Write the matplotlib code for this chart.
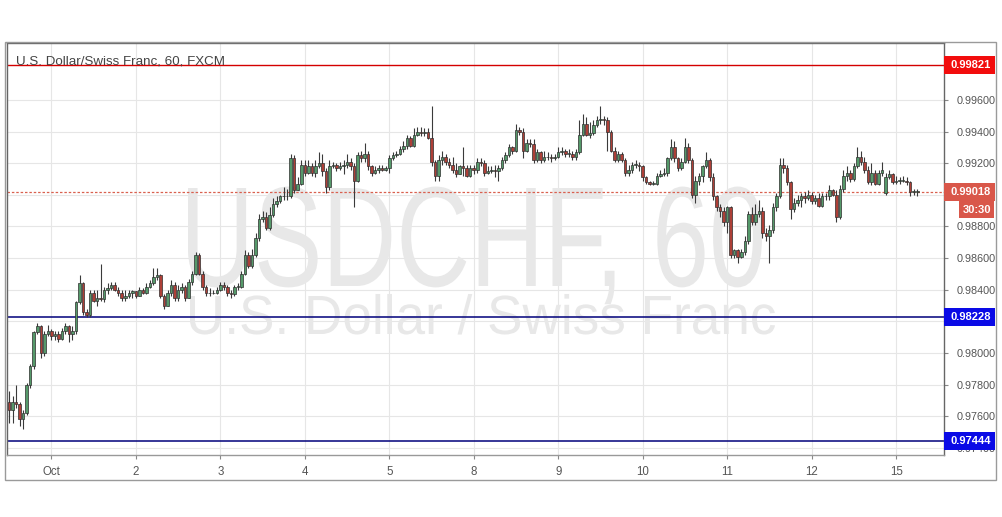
import numpy as np
import matplotlib
matplotlib.use("Agg")
import matplotlib.pyplot as plt
from matplotlib.patches import Rectangle, PathPatch
from matplotlib.textpath import TextPath
from matplotlib.font_manager import FontProperties
from matplotlib.transforms import Affine2D

# DATA ==================================================================================

# hourly USD/CHF candles, open = previous close except where a gap is listed
first_open = 0.9769
gap_opens = {249: 0.9901}

closes = [
    0.9764, 0.9769, 0.9768, 0.9758, 0.9762, 0.9780, 0.9792, 0.9813, 0.9817, 0.9800, 0.9812, 0.9814,
    0.9811, 0.9812, 0.9809, 0.9814, 0.9817, 0.9812, 0.9814, 0.9832, 0.9844, 0.9826, 0.9824, 0.9838,
    0.9833, 0.9835, 0.9834, 0.9840, 0.9841, 0.9843, 0.9840, 0.9838, 0.9835, 0.9836, 0.9838, 0.9839,
    0.9836, 0.9840, 0.9838, 0.9842, 0.9844, 0.9848, 0.9849, 0.9836, 0.9830, 0.9838, 0.9843, 0.9835,
    0.9840, 0.9842, 0.9835, 0.9845, 0.9850, 0.9862, 0.9850, 0.9842, 0.9838, 0.9838, 0.9838, 0.9840,
    0.9843, 0.9842, 0.9838, 0.9837, 0.9842, 0.9842, 0.9850, 0.9862, 0.9855, 0.9862, 0.9873, 0.9885,
    0.9886, 0.9879, 0.9887, 0.9894, 0.9896, 0.9899, 0.9899, 0.9899, 0.9923, 0.9903, 0.9907, 0.9919,
    0.9914, 0.9918, 0.9914, 0.9918, 0.9920, 0.9915, 0.9905, 0.9918, 0.9919, 0.9917, 0.9918, 0.9919,
    0.9921, 0.9918, 0.9909, 0.9925, 0.9923, 0.9926, 0.9918, 0.9914, 0.9916, 0.9917, 0.9916, 0.9917,
    0.9923, 0.9925, 0.9926, 0.9929, 0.9931, 0.9936, 0.9931, 0.9938, 0.9940, 0.9939, 0.9940, 0.9936,
    0.9921, 0.9912, 0.9922, 0.9924, 0.9921, 0.9919, 0.9916, 0.9913, 0.9918, 0.9917, 0.9912, 0.9917,
    0.9916, 0.9921, 0.9920, 0.9914, 0.9915, 0.9916, 0.9915, 0.9917, 0.9922, 0.9925, 0.9930, 0.9928,
    0.9941, 0.9940, 0.9928, 0.9933, 0.9932, 0.9922, 0.9927, 0.9922, 0.9924, 0.9924, 0.9923, 0.9924,
    0.9927, 0.9928, 0.9926, 0.9926, 0.9924, 0.9927, 0.9938, 0.9945, 0.9938, 0.9939, 0.9944, 0.9947,
    0.9948, 0.9947, 0.9940, 0.9928, 0.9922, 0.9926, 0.9922, 0.9914, 0.9916, 0.9919, 0.9919, 0.9918,
    0.9911, 0.9908, 0.9907, 0.9907, 0.9912, 0.9913, 0.9914, 0.9923, 0.9930, 0.9923, 0.9917, 0.9921,
    0.9930, 0.9922, 0.9900, 0.9909, 0.9912, 0.9918, 0.9922, 0.9911, 0.9899, 0.9892, 0.9890, 0.9883,
    0.9892, 0.9862, 0.9865, 0.9861, 0.9864, 0.9871, 0.9888, 0.9883, 0.9888, 0.9890, 0.9876, 0.9874,
    0.9878, 0.9892, 0.9899, 0.9919, 0.9917, 0.9908, 0.9891, 0.9895, 0.9897, 0.9899, 0.9898, 0.9900,
    0.9896, 0.9898, 0.9893, 0.9899, 0.9899, 0.9903, 0.9900, 0.9886, 0.9904, 0.9912, 0.9914, 0.9910,
    0.9918, 0.9924, 0.9921, 0.9916, 0.9908, 0.9914, 0.9907, 0.9914, 0.9916, 0.9911, 0.9913, 0.9908,
    0.9909, 0.9909, 0.9909, 0.9908, 0.9902, 0.9902, 0.9902,
]

highs = [
    0.9776, 0.9773, 0.9780, 0.9769, 0.9764, 0.9781, 0.9793, 0.9814, 0.9819, 0.9818, 0.9814, 0.9818,
    0.9815, 0.9814, 0.9814, 0.9816, 0.9819, 0.9818, 0.9817, 0.9833, 0.9849, 0.9845, 0.9828, 0.9840,
    0.9840, 0.9840, 0.9856, 0.9842, 0.9844, 0.9845, 0.9845, 0.9842, 0.9840, 0.9840, 0.9840, 0.9840,
    0.9839, 0.9842, 0.9841, 0.9844, 0.9846, 0.9854, 0.9854, 0.9850, 0.9837, 0.9840, 0.9846, 0.9845,
    0.9843, 0.9844, 0.9843, 0.9847, 0.9852, 0.9864, 0.9863, 0.9852, 0.9843, 0.9841, 0.9840, 0.9842,
    0.9845, 0.9845, 0.9843, 0.9840, 0.9843, 0.9844, 0.9852, 0.9865, 0.9864, 0.9866, 0.9876, 0.9888,
    0.9890, 0.9889, 0.9892, 0.9898, 0.9899, 0.9900, 0.9905, 0.9904, 0.9926, 0.9925, 0.9911, 0.9922,
    0.9922, 0.9922, 0.9920, 0.9922, 0.9927, 0.9926, 0.9917, 0.9922, 0.9921, 0.9920, 0.9921, 0.9922,
    0.9926, 0.9923, 0.9920, 0.9927, 0.9928, 0.9933, 0.9928, 0.9919, 0.9918, 0.9919, 0.9919, 0.9918,
    0.9925, 0.9927, 0.9928, 0.9931, 0.9934, 0.9938, 0.9937, 0.9942, 0.9943, 0.9943, 0.9942, 0.9942,
    0.9956, 0.9922, 0.9925, 0.9928, 0.9926, 0.9923, 0.9924, 0.9920, 0.9919, 0.9930, 0.9919, 0.9919,
    0.9919, 0.9923, 0.9923, 0.9922, 0.9918, 0.9918, 0.9919, 0.9919, 0.9924, 0.9927, 0.9932, 0.9931,
    0.9945, 0.9943, 0.9942, 0.9935, 0.9935, 0.9935, 0.9929, 0.9928, 0.9928, 0.9927, 0.9926, 0.9926,
    0.9930, 0.9930, 0.9929, 0.9929, 0.9928, 0.9929, 0.9947, 0.9951, 0.9949, 0.9946, 0.9947, 0.9950,
    0.9956, 0.9950, 0.9949, 0.9941, 0.9930, 0.9928, 0.9927, 0.9923, 0.9919, 0.9921, 0.9922, 0.9921,
    0.9919, 0.9912, 0.9909, 0.9909, 0.9914, 0.9916, 0.9917, 0.9924, 0.9935, 0.9934, 0.9924, 0.9923,
    0.9936, 0.9933, 0.9923, 0.9912, 0.9914, 0.9919, 0.9927, 0.9923, 0.9914, 0.9900, 0.9894, 0.9892,
    0.9893, 0.9893, 0.9866, 0.9866, 0.9866, 0.9874, 0.9890, 0.9892, 0.9894, 0.9897, 0.9892, 0.9879,
    0.9881, 0.9895, 0.9901, 0.9923, 0.9923, 0.9919, 0.9909, 0.9898, 0.9900, 0.9901, 0.9902, 0.9903,
    0.9902, 0.9900, 0.9901, 0.9901, 0.9901, 0.9906, 0.9904, 0.9903, 0.9906, 0.9916, 0.9918, 0.9916,
    0.9920, 0.9930, 0.9928, 0.9924, 0.9918, 0.9920, 0.9916, 0.9916, 0.9921, 0.9914, 0.9916, 0.9914,
    0.9912, 0.9911, 0.9912, 0.9911, 0.9909, 0.9904, 0.9904,
]

lows = [
    0.9756, 0.9756, 0.9765, 0.9754, 0.9752, 0.9761, 0.9778, 0.9790, 0.9812, 0.9797, 0.9798, 0.9811,
    0.9808, 0.9808, 0.9807, 0.9808, 0.9812, 0.9807, 0.9808, 0.9812, 0.9831, 0.9824, 0.9823, 0.9823,
    0.9832, 0.9830, 0.9833, 0.9832, 0.9837, 0.9840, 0.9839, 0.9836, 0.9833, 0.9833, 0.9835, 0.9835,
    0.9835, 0.9836, 0.9837, 0.9837, 0.9841, 0.9843, 0.9846, 0.9835, 0.9828, 0.9830, 0.9836, 0.9833,
    0.9833, 0.9838, 0.9833, 0.9835, 0.9843, 0.9849, 0.9849, 0.9840, 0.9836, 0.9836, 0.9837, 0.9837,
    0.9839, 0.9840, 0.9836, 0.9835, 0.9836, 0.9840, 0.9841, 0.9849, 0.9854, 0.9854, 0.9861, 0.9871,
    0.9883, 0.9878, 0.9878, 0.9886, 0.9892, 0.9895, 0.9897, 0.9897, 0.9898, 0.9901, 0.9903, 0.9906,
    0.9912, 0.9913, 0.9912, 0.9911, 0.9917, 0.9912, 0.9901, 0.9903, 0.9917, 0.9915, 0.9916, 0.9913,
    0.9917, 0.9916, 0.9892, 0.9908, 0.9921, 0.9921, 0.9916, 0.9912, 0.9913, 0.9914, 0.9915, 0.9915,
    0.9914, 0.9922, 0.9924, 0.9925, 0.9927, 0.9929, 0.9930, 0.9930, 0.9937, 0.9937, 0.9937, 0.9935,
    0.9918, 0.9909, 0.9909, 0.9919, 0.9919, 0.9917, 0.9914, 0.9911, 0.9914, 0.9912, 0.9911, 0.9911,
    0.9913, 0.9914, 0.9918, 0.9912, 0.9913, 0.9914, 0.9911, 0.9909, 0.9916, 0.9920, 0.9924, 0.9926,
    0.9927, 0.9938, 0.9923, 0.9927, 0.9930, 0.9920, 0.9921, 0.9920, 0.9921, 0.9922, 0.9921, 0.9922,
    0.9923, 0.9925, 0.9924, 0.9924, 0.9922, 0.9922, 0.9926, 0.9937, 0.9937, 0.9936, 0.9938, 0.9943,
    0.9945, 0.9944, 0.9928, 0.9927, 0.9921, 0.9921, 0.9921, 0.9912, 0.9912, 0.9914, 0.9917, 0.9915,
    0.9909, 0.9907, 0.9906, 0.9906, 0.9906, 0.9911, 0.9912, 0.9912, 0.9922, 0.9921, 0.9915, 0.9916,
    0.9920, 0.9920, 0.9898, 0.9895, 0.9906, 0.9908, 0.9917, 0.9909, 0.9897, 0.9890, 0.9886, 0.9880,
    0.9876, 0.9860, 0.9860, 0.9857, 0.9860, 0.9862, 0.9869, 0.9881, 0.9881, 0.9886, 0.9873, 0.9871,
    0.9857, 0.9876, 0.9890, 0.9898, 0.9914, 0.9906, 0.9885, 0.9889, 0.9893, 0.9892, 0.9895, 0.9897,
    0.9894, 0.9894, 0.9892, 0.9892, 0.9897, 0.9897, 0.9899, 0.9883, 0.9885, 0.9902, 0.9909, 0.9908,
    0.9909, 0.9917, 0.9919, 0.9914, 0.9907, 0.9906, 0.9906, 0.9906, 0.9912, 0.9900, 0.9910, 0.9907,
    0.9907, 0.9907, 0.9908, 0.9906, 0.9899, 0.9900, 0.9899,
]

day_ticks = [12, 36, 60, 84, 108, 132, 156, 180, 204, 228, 252]
day_labels = ["Oct", "2", "3", "4", "5", "8", "9", "10", "11", "12", "15"]
price_ticks = [0.974, 0.976, 0.978, 0.980, 0.982, 0.984, 0.986, 0.988, 0.990, 0.992, 0.994, 0.996]
# scale labels that sit under a level box in the reference
hidden_ticks = [0.982, 0.990]

resistance = 0.99821
supports = [0.98228, 0.97444]
last_price = 0.99018
countdown = "30:30"

title = "U.S. Dollar/Swiss Franc, 60, FXCM"
mark_big = "USDCHF, 60"
mark_small = "U.S. Dollar / Swiss Franc"

# FIGURE ================================================================================

W, H = 1002, 517
fig = plt.figure(figsize=(W / 100, H / 100), dpi=100)
fig.patch.set_facecolor("white")

def fx(x):
    return x / W

def fy(y):
    return 1 - y / H

ax = fig.add_axes([fx(7), fy(455), (944 - 7) / W, (455 - 43) / H])
ax.set_xlim(-0.6, 265.6)
ax.set_ylim(0.97355, 0.99960)
ax.set_facecolor("white")

label_font = "Liberation Sans"

# grid and scales
ax.set_xticks(day_ticks)
ax.set_xticklabels(day_labels, fontsize=8.3, color="#555555", family=label_font)
ax.set_yticks(price_ticks)
ax.set_yticklabels(["" if p in hidden_ticks else "%.5f" % p for p in price_ticks],
                   fontsize=7.8, color="#555555", family=label_font)
ax.yaxis.tick_right()
ax.tick_params(axis="y", length=3, color="#888888", pad=6)
ax.tick_params(axis="x", length=3, color="#888888", pad=5)
ax.grid(True, color="#e6e6e6", lw=0.8)
ax.set_axisbelow(True)
for s in ax.spines.values():
    s.set_color("#666666")
    s.set_linewidth(1.0)
ax.spines["bottom"].set_color("#999999")

# watermark drawn as paths fitted into pixel boxes, behind the candles
fp = FontProperties(family=label_font)
cap_em = TextPath((0, 0), "H", size=1, prop=fp).get_extents().height

def watermark(text, x0, x1, top, base):
    path = TextPath((0, 0), text, size=1, prop=fp)
    ext = path.get_extents()
    sx = (x1 - x0) / ext.width
    sy = (base - top) / cap_em
    tr = (Affine2D().translate(-ext.x0, 0).scale(sx, sy)
          .translate(x0, H - base).scale(1 / W, 1 / H) + fig.transFigure)
    ax.add_patch(PathPatch(path, transform=tr, fc="#e8e8e8", ec="none", zorder=1, clip_on=False))

watermark(mark_big, 188, 762, 188, 286)
watermark(mark_small, 190, 775, 296, 334)

# level lines
ax.axhline(resistance, color="#d40000", lw=1.0, zorder=2)
for lv in supports:
    ax.axhline(lv, color="#00007a", lw=1.1, zorder=2)
ax.axhline(last_price, color="#d9604f", lw=0.9, ls=(0, (2, 1.5)), zorder=2)

# candles
closes = np.array(closes)
opens = np.concatenate([[first_open], closes[:-1]])
for i, o in gap_opens.items():
    opens[i] = o
highs = np.maximum(np.array(highs), np.maximum(opens, closes))
lows = np.minimum(np.array(lows), np.minimum(opens, closes))
idx = np.arange(len(closes))
up = closes >= opens

ax.vlines(idx, lows, highs, color="#3a3a3a", lw=0.8, zorder=3)
body_bottom = np.minimum(opens, closes)
body_height = np.maximum(np.abs(closes - opens), 0.00002)
ax.bar(idx[up], body_height[up], bottom=body_bottom[up], width=0.72,
       color="#55996a", edgecolor="#2e2e2e", lw=0.5, zorder=4)
ax.bar(idx[~up], body_height[~up], bottom=body_bottom[~up], width=0.72,
       color="#ad3f37", edgecolor="#2e2e2e", lw=0.5, zorder=4)

# price labels on the right scale
fig.canvas.draw()

def price_box(price, text, color, x0=944, x1=995, h=18, dy=0):
    yc = ax.transData.transform((0, price))[1] - dy
    fig.add_artist(Rectangle((fx(x0), (yc - h / 2) / H), (x1 - x0) / W, h / H,
                             transform=fig.transFigure, fc=color, ec="none", zorder=5))
    fig.text(fx((x0 + x1) / 2 + 1), yc / H, text, ha="center", va="center", color="white",
             fontsize=8, fontweight="bold", family=label_font, zorder=6)

price_box(resistance, "%.5f" % resistance, "#f20d0d")
for lv in supports:
    price_box(lv, "%.5f" % lv, "#0a0ae6")
price_box(last_price, "%.5f" % last_price, "#d9574a")
price_box(last_price, countdown, "#d9574a", x0=959, x1=994, h=17, dy=18)

# title and frame
fig.text(fx(16), fy(65), title, fontsize=9.6, color="#444444", family=label_font,
         va="baseline", zorder=6)
fig.add_artist(Rectangle((fx(5), fy(480)), (996 - 5) / W, (480 - 42) / H,
                         transform=fig.transFigure, fc="none", ec="#9a9a9a", lw=1.0, zorder=7))

fig.savefig("out.png", dpi=100, facecolor=fig.get_facecolor())
